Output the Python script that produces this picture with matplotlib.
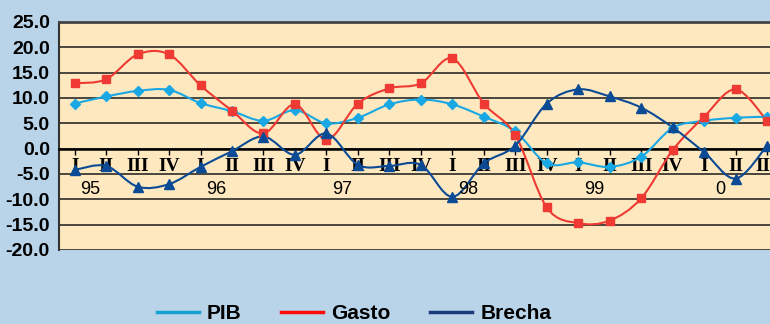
import matplotlib
matplotlib.use("Agg")
import matplotlib.pyplot as plt
from matplotlib.path import Path
from matplotlib.patches import PathPatch
from matplotlib.lines import Line2D
from matplotlib.ticker import FormatStrFormatter

plt.rcParams['axes.unicode_minus'] = False

# datos trimestrales 1995-I .. 2000-III
trimestres = ["I", "II", "III", "IV"] * 5 + ["I", "II", "III"]
anios = ["95", "96", "97", "98", "99", "0"]

pib = [8.9, 10.3, 11.4, 11.6, 9.0, 7.4, 5.5, 7.6, 5.0, 6.1, 8.75, 9.7,
       8.75, 6.3, 3.4, -2.9, -2.7, -3.6, -1.6, 4.1, 5.5, 6.1, 6.3]
gasto = [12.9, 13.7, 18.6, 18.6, 12.5, 7.5, 3.0, 8.75, 1.8, 8.9, 11.9, 12.9,
         17.8, 8.9, 2.7, -11.6, -14.7, -14.2, -9.8, -0.3, 6.3, 11.7, 5.5]
brecha = [-4.2, -3.4, -7.5, -7.0, -3.6, -0.5, 2.4, -1.2, 3.0, -3.2, -3.4, -3.2,
          -9.5, -2.9, 0.6, 8.9, 11.7, 10.3, 8.1, 4.2, -0.7, -5.9, 0.6]

c_pib = "#1AA8E4"
c_gasto = "#EE3A33"
c_brecha = "#0B4A94"


def smooth_path(xs, ys):
    # curva suavizada tipo Excel (Catmull-Rom como Bezier cubica)
    pts = list(zip(xs, ys))
    n = len(pts)
    verts = [pts[0]]
    codes = [Path.MOVETO]
    for i in range(n - 1):
        p0 = pts[i - 1] if i > 0 else pts[i]
        p1 = pts[i]
        p2 = pts[i + 1]
        p3 = pts[i + 2] if i + 2 < n else pts[i + 1]
        c1 = (p1[0] + (p2[0] - p0[0]) / 6, p1[1] + (p2[1] - p0[1]) / 6)
        c2 = (p2[0] - (p3[0] - p1[0]) / 6, p2[1] - (p3[1] - p1[1]) / 6)
        verts += [c1, c2, p2]
        codes += [Path.CURVE4] * 3
    return Path(verts, codes)


fig = plt.figure(figsize=(7.7, 3.24), dpi=100)
fig.patch.set_facecolor("#B9D4E8")
ax = fig.add_axes([0.0765, 0.2284, 0.981, 0.7037])
ax.set_facecolor("#FEE8BF")

x = list(range(len(pib)))
series = [(pib, c_pib, "D", 5.5), (gasto, c_gasto, "s", 6), (brecha, c_brecha, "^", 6.5)]
for vals, col, mk, ms in series:
    ax.add_patch(PathPatch(smooth_path(x, vals), fill=False, edgecolor=col, lw=1.5, zorder=3))
    ax.plot(x, vals, ls="none", marker=mk, ms=ms, color=col, mec=col, zorder=4)

ax.set_xlim(-0.5, 23.5)
ax.set_ylim(-20, 25)
ax.set_yticks(range(-20, 26, 5))
ax.yaxis.set_major_formatter(FormatStrFormatter("%.1f"))
ax.grid(axis="y", color="#1a1a1a", lw=1.1)
ax.set_axisbelow(True)

ax.spines["bottom"].set_position(("data", 0))
ax.spines["bottom"].set_linewidth(1.8)
ax.spines["left"].set_color("#333333")
ax.spines["left"].set_linewidth(1.5)
ax.spines["top"].set_color("#444444")
ax.spines["top"].set_linewidth(2)
ax.spines["right"].set_visible(False)

ax.set_xticks(x)
ax.set_xticklabels(trimestres, fontfamily="Liberation Serif", fontweight="bold", fontsize=14)
ax.tick_params(axis="x", direction="out", length=4.5, width=1, pad=2.5)
ax.tick_params(axis="y", length=0, pad=6.5)
for lab in ax.get_yticklabels():
    lab.set_fontfamily("Liberation Sans")
    lab.set_fontweight("bold")
    lab.set_fontsize(14)

for k, a in enumerate(anios):
    ax.text(4 * k + 0.5, -8.1, a, ha="center", va="center",
            fontfamily="Liberation Sans", fontsize=13)

handles = [Line2D([], [], color="#15A2D2", lw=2.5),
           Line2D([], [], color="#FF0A0A", lw=2.5),
           Line2D([], [], color="#1B3B7C", lw=2.5)]
leg = fig.legend(handles, ["PIB", "Gasto", "Brecha"], loc="center",
                 bbox_to_anchor=(0.46, 0.033), ncol=3, frameon=False,
                 prop={"family": "Liberation Sans", "weight": "bold", "size": 15},
                 handlelength=2.0, handletextpad=0.4, columnspacing=1.9)

fig.savefig("out.png", dpi=100, facecolor=fig.get_facecolor())
